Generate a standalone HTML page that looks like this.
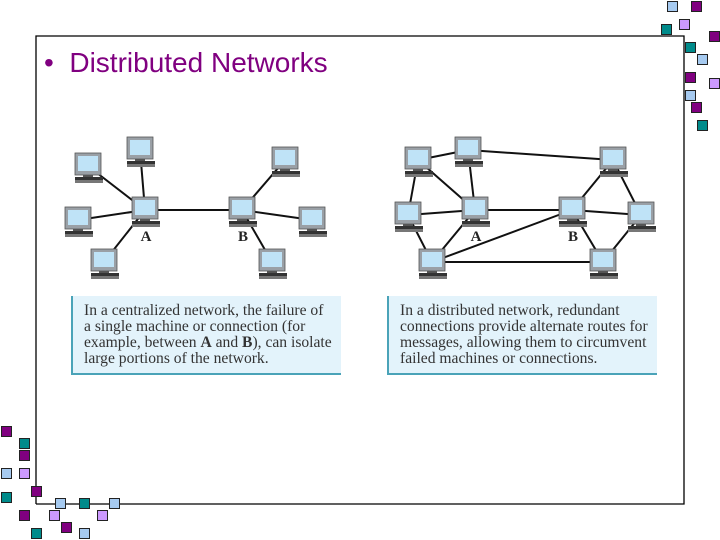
<!DOCTYPE html>
<html><head><meta charset="utf-8"><style>
body{margin:0;width:720px;height:540px;background:#fff;position:relative;overflow:hidden;font-family:"Liberation Sans",sans-serif}
.sq{position:absolute;width:11px;height:11px;border:1px solid #222;box-sizing:border-box}
.p{background:#800080}.t{background:#008b8b}.b{background:#a6caf0}.l{background:#cc99ff}
.title{position:absolute;left:44px;top:47px;font-size:28px;color:#800080;white-space:nowrap}
.box{position:absolute;background:#e3f3fb;border-left:2px solid #4aa3b8;border-bottom:2px solid #4aa3b8;font-family:"Liberation Serif",serif;font-size:15.6px;line-height:16px;color:#333;padding:7px 0 0 11px;box-sizing:border-box;white-space:nowrap}
</style></head><body>
<svg width="720" height="540" style="position:absolute;left:0;top:0">
<defs><g id="pc">
<rect x="0" y="0" width="26" height="22" fill="#9aa0a6" stroke="#555" stroke-width="0.8"/>
<rect x="3" y="3" width="20" height="15" fill="#bfe3f7"/>
<rect x="8" y="22" width="10" height="2" fill="#555"/>
<rect x="0" y="24" width="28" height="3" fill="#333"/>
<rect x="0" y="27" width="28" height="3" fill="#777"/>
</g></defs>
<path d="M36 504 V36 H684 V504 H36" fill="none" stroke="#000" stroke-width="1.3"/>
<g stroke="#111" stroke-width="2">
<line x1="145" y1="210" x2="88" y2="166"/><line x1="145" y1="210" x2="140" y2="150"/><line x1="145" y1="210" x2="78" y2="220"/><line x1="145" y1="210" x2="104" y2="262"/><line x1="145" y1="210" x2="242" y2="210"/>
<line x1="242" y1="210" x2="285" y2="160"/><line x1="242" y1="210" x2="312" y2="220"/><line x1="242" y1="210" x2="272" y2="262"/>
<line x1="418" y1="160" x2="468" y2="150"/><line x1="418" y1="160" x2="475" y2="210"/><line x1="468" y1="150" x2="475" y2="210"/><line x1="468" y1="150" x2="613" y2="160"/><line x1="418" y1="160" x2="408" y2="215"/><line x1="408" y1="215" x2="475" y2="210"/><line x1="408" y1="215" x2="432" y2="262"/><line x1="432" y1="262" x2="475" y2="210"/><line x1="432" y1="262" x2="572" y2="210"/><line x1="432" y1="262" x2="603" y2="262"/><line x1="475" y1="210" x2="572" y2="210"/><line x1="572" y1="210" x2="613" y2="160"/><line x1="572" y1="210" x2="641" y2="215"/><line x1="613" y1="160" x2="641" y2="215"/><line x1="572" y1="210" x2="603" y2="262"/><line x1="603" y1="262" x2="641" y2="215"/>
</g>
<use href="#pc" x="132" y="197"/><use href="#pc" x="229" y="197"/><use href="#pc" x="75" y="153"/><use href="#pc" x="127" y="137"/><use href="#pc" x="272" y="147"/><use href="#pc" x="65" y="207"/><use href="#pc" x="299" y="207"/><use href="#pc" x="91" y="249"/><use href="#pc" x="259" y="249"/>
<use href="#pc" x="405" y="147"/><use href="#pc" x="455" y="137"/><use href="#pc" x="600" y="147"/><use href="#pc" x="395" y="202"/><use href="#pc" x="462" y="197"/><use href="#pc" x="559" y="197"/><use href="#pc" x="628" y="202"/><use href="#pc" x="419" y="249"/><use href="#pc" x="590" y="249"/>
<g font-family="Liberation Serif,serif" font-weight="bold" font-size="15" fill="#222" text-anchor="middle">
<text x="146" y="241">A</text><text x="243" y="241">B</text><text x="476" y="241">A</text><text x="573" y="241">B</text></g>
</svg>
<div class="title">•&nbsp;&nbsp;Distributed Networks</div>
<div class="box" style="left:71px;top:296px;width:270px;height:79px">In a centralized network, the failure of<br>a single machine or connection (for<br>example, between <b>A</b> and <b>B</b>), can isolate<br>large portions of the network.</div>
<div class="box" style="left:387px;top:296px;width:270px;height:79px">In a distributed network, redundant<br>connections provide alternate routes for<br>messages, allowing them to circumvent<br>failed machines or connections.</div>
<div class="sq b" style="left:667px;top:1px"></div><div class="sq p" style="left:691px;top:1px"></div><div class="sq l" style="left:679px;top:19px"></div><div class="sq t" style="left:661px;top:24px"></div><div class="sq p" style="left:709px;top:31px"></div><div class="sq t" style="left:685px;top:42px"></div><div class="sq b" style="left:697px;top:54px"></div><div class="sq p" style="left:685px;top:72px"></div><div class="sq l" style="left:709px;top:78px"></div><div class="sq b" style="left:685px;top:90px"></div><div class="sq p" style="left:691px;top:102px"></div><div class="sq t" style="left:697px;top:120px"></div>
<div class="sq p" style="left:1px;top:426px"></div><div class="sq t" style="left:19px;top:438px"></div><div class="sq p" style="left:19px;top:450px"></div><div class="sq b" style="left:1px;top:468px"></div><div class="sq l" style="left:19px;top:468px"></div><div class="sq p" style="left:31px;top:486px"></div><div class="sq t" style="left:1px;top:492px"></div><div class="sq b" style="left:55px;top:498px"></div><div class="sq t" style="left:79px;top:498px"></div><div class="sq b" style="left:109px;top:498px"></div><div class="sq l" style="left:49px;top:510px"></div><div class="sq p" style="left:19px;top:510px"></div><div class="sq l" style="left:97px;top:510px"></div><div class="sq p" style="left:61px;top:522px"></div><div class="sq t" style="left:31px;top:528px"></div><div class="sq b" style="left:79px;top:528px"></div>
</body></html>
